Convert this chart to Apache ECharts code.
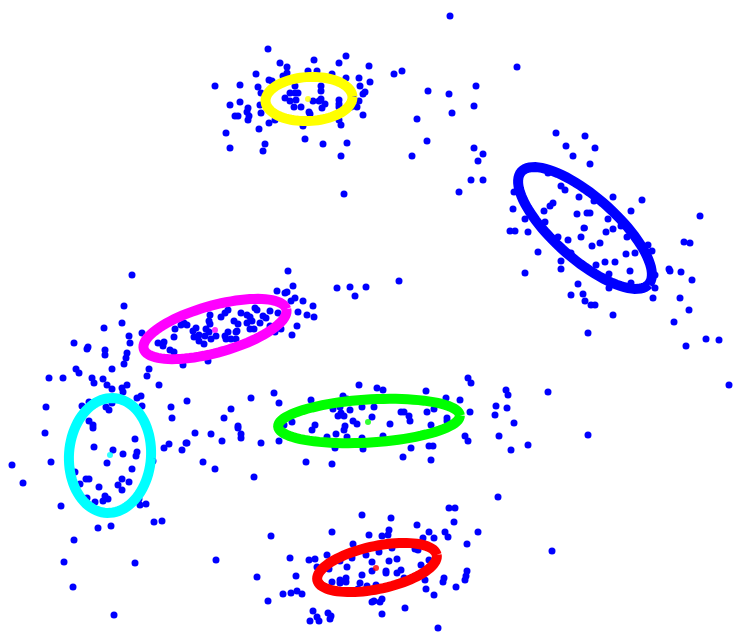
<!DOCTYPE html>
<html>
<head>
<meta charset="utf-8">
<script src="https://cdn.jsdelivr.net/npm/echarts@6/dist/echarts.min.js"></script>
<style>
  html, body { margin: 0; padding: 0; background: #fff; }
  #chart { width: 746px; height: 642px; }
</style>
</head>
<body>
<div id="chart"></div>
<script>
// scatter of samples + fitted cluster ellipses
const samplePoints = [
  // around yellow cluster
  [2.68,0.49],[2.15,0.86],[2.40,0.85],[2.56,0.74],[2.80,0.63],[2.87,0.67],[2.87,0.73],[3.14,0.60],[3.46,0.56],[3.39,0.63],
  [3.69,0.66],[3.70,0.82],[3.59,0.78],[3.60,0.86],[3.65,0.92],[3.63,0.94],[3.59,1.01],[3.57,1.07],[3.63,1.15],[3.46,0.78],
  [3.32,0.74],[3.17,0.71],[3.08,0.71],[2.69,0.80],[2.72,0.81],[2.83,0.76],[2.58,0.87],[2.61,0.93],[2.30,1.05],[2.40,1.02],
  [2.48,1.08],[2.47,1.12],[2.35,1.16],[2.38,1.16],[2.49,1.16],[2.48,1.20],[2.61,1.13],[2.69,1.23],[2.75,1.20],[2.59,1.29],
  [2.26,1.33],[2.30,1.48],[2.65,1.44],[2.63,1.51],[3.03,1.26],[3.05,1.39],[3.23,1.44],[3.47,1.43],[3.41,1.56],[3.44,1.94],
  [3.41,1.25],[3.39,1.20],[2.60,1.05],[2.95,0.86],[2.90,0.93],[2.95,0.93],[2.98,0.93],[2.85,0.98],[2.90,1.01],[2.96,1.00],
  [2.94,1.07],[3.01,1.07],[3.09,1.12],[3.10,1.14],[3.13,1.01],[3.21,0.86],[3.21,0.91],[3.19,1.01],[3.21,0.99],[3.25,1.04],
  [3.22,1.08],[3.39,1.00],[3.39,1.04],[3.39,1.07],[3.53,0.97],[3.51,1.07],
  // upper middle / blue cluster
  [4.50,0.16],[3.94,0.74],[4.02,0.71],[5.17,0.67],[4.28,0.91],[4.49,0.94],[4.76,0.86],[4.74,1.06],[4.52,1.13],[4.17,1.19],
  [4.27,1.41],[4.12,1.56],[4.74,1.48],[4.83,1.54],[4.78,1.61],[4.71,1.80],[4.83,1.80],[4.59,1.92],[5.56,1.33],[5.13,2.09],
  [5.44,2.11],[5.50,2.06],[5.53,2.03],[5.48,1.73],[5.61,1.86],[5.14,1.92],
  [5.85,1.36],[5.66,1.46],[5.95,1.48],[5.73,1.56],[5.90,1.64],[5.65,1.90],[5.79,1.97],[5.94,2.01],[6.13,1.97],[6.42,2.00],
  [6.31,2.11],[5.77,2.14],[5.87,2.13],[5.90,2.13],[7.00,2.16],
  [6.08,2.19],[6.17,2.16],[5.84,2.28],[6.13,2.29],[6.06,2.32],[6.21,2.26],[5.68,2.40],[5.81,2.37],[5.92,2.46],[6.00,2.43],
  [6.27,2.37],[6.48,2.45],[6.52,2.51],[6.35,2.53],[6.26,2.54],[5.71,2.53],[5.96,2.65],[6.05,2.62],[6.15,2.62],[6.30,2.71],
  [6.09,2.74],[6.55,2.75],[6.31,2.83],[6.55,2.88],[6.53,2.98],[6.09,2.88],[5.78,2.84],[5.71,2.95],[5.83,2.94],[5.85,3.01],
  [5.91,3.05],[5.95,3.05],[6.13,3.15],[5.88,3.33],[6.69,2.69],[6.70,2.71],[6.84,2.42],[6.90,2.43],[6.81,2.72],[6.92,2.80],
  [6.80,2.98],[6.89,3.10],[6.74,3.22],[7.06,3.39],[7.19,3.40],[6.86,3.46],[7.29,3.85],[5.88,4.35],
  [5.25,2.19],[5.45,2.22],[5.10,2.31],[5.15,2.31],[5.28,2.32],[5.58,2.37],[5.38,2.52],[5.61,2.61],[5.25,2.73],[5.61,2.69],
  // green cluster
  [3.99,2.81],[4.68,3.78],[4.71,3.83],[3.77,3.88],[3.83,3.90],[4.26,3.91],[4.46,3.98],[4.60,4.00],[5.06,3.90],[5.08,3.95],
  [5.48,3.92],[4.96,4.06],[5.07,4.08],[4.95,4.15],[4.70,4.12],[5.14,4.23],[3.74,4.07],[4.01,4.12],[4.04,4.12],[4.09,4.16],
  [4.10,4.21],[4.27,4.12],[4.34,4.09],[4.47,4.18],[4.47,4.21],[3.90,4.24],[4.31,4.25],
  [3.83,4.36],[4.11,4.48],[4.03,4.57],[4.29,4.46],[4.33,4.46],[4.31,4.60],[4.65,4.36],[4.68,4.41],[4.99,4.36],[5.11,4.50],
  [5.28,4.45],[4.98,4.97],[5.52,5.51],
  // red cluster
  [4.49,5.08],[4.55,5.08],[3.91,5.18],[4.54,5.22],[4.17,5.25],[4.29,5.32],[4.34,5.38],[4.45,5.32],[4.48,5.37],[4.78,5.32],
  [4.67,5.44],[3.89,5.30],[3.88,5.35],[3.82,5.36],[4.23,5.38],[3.92,5.48],[3.79,5.52],[4.15,5.49],[4.18,5.50],[3.89,5.61],
  [3.97,5.59],[4.21,5.65],[4.29,5.60],[3.86,5.71],[3.86,5.73],[3.97,5.73],[4.01,5.70],[4.04,5.78],[4.25,5.80],[4.44,5.78],
  [4.43,5.82],[4.67,5.71],[4.66,5.76],[4.65,5.80],[4.56,5.87],[4.26,5.89],[4.34,5.95],[3.76,5.85],[3.74,6.01],[3.80,6.02],
  [3.82,5.99],[3.82,6.14],[4.05,6.08],[4.38,6.28],
  [1.95,4.33],[2.11,4.34],[2.22,4.41],[2.41,4.34],[2.41,4.38],[2.38,4.28],[2.61,4.43],[2.79,4.41],[1.87,4.43],[2.03,4.62],
  [2.15,4.69],[2.54,4.77],[3.06,4.62],[3.32,4.64],[3.12,4.30],[3.27,4.37],[3.36,4.34],[3.44,4.30],[3.47,4.37],[3.62,4.38],
  [3.35,4.48],[3.63,4.49],[3.62,5.15],[3.32,5.32],[3.69,5.35],[2.71,5.36],[2.16,5.60],[2.57,5.77],[2.90,5.58],[3.09,5.60],
  [3.15,5.59],[3.27,5.55],[3.53,5.44],[2.96,5.76],[3.17,5.67],[3.29,5.69],[3.40,5.61],[3.52,5.58],[3.66,5.55],[3.47,5.67],
  [3.72,5.62],[3.72,5.71],[3.62,5.75],[3.32,5.82],[3.40,5.80],[3.46,5.78],[3.46,5.82],[3.40,5.83],[3.60,5.83],[3.67,5.86],
  [3.58,5.89],[2.83,5.94],[2.91,5.93],[2.97,5.91],[3.02,5.94],[2.68,6.01],[3.72,6.02],[3.13,6.11],[3.17,6.17],[3.19,6.21],
  [3.10,6.21],[3.28,6.13],[3.31,6.16],[3.30,6.19],
  // cyan cluster
  [0.45,4.33],[0.12,4.65],[0.23,4.83],[0.51,4.62],[0.94,4.47],[1.13,4.50],[1.23,4.54],[1.35,4.39],[1.37,4.52],[1.36,4.56],
  [1.07,4.63],[1.32,4.69],[0.75,4.72],[0.86,4.79],[0.89,4.79],[0.80,4.84],[0.99,4.87],[1.22,4.79],[1.29,4.82],[1.18,4.85],
  [1.22,4.90],[1.05,4.96],[1.08,4.99],[1.03,5.01],[0.95,5.02],[0.87,4.98],[1.40,5.05],[1.46,5.04],[1.39,4.99],[1.53,4.61],
  [1.64,4.48],[1.69,4.44],[1.82,4.50],[1.86,4.43],[0.61,5.06],[0.98,5.28],[1.11,5.26],[1.54,5.22],[1.62,5.21],[0.74,5.40],
  [0.64,5.62],[1.35,5.63],[0.73,5.87],[1.14,6.15],[0.93,4.28],
  // magenta cluster
  [1.32,2.75],[1.24,3.06],[1.22,3.23],[1.04,3.28],[0.74,3.43],[1.29,3.36],[1.30,3.43],[1.42,3.33],[0.88,3.47],[0.87,3.49],
  [1.05,3.50],[1.05,3.55],[1.27,3.53],[1.26,3.58],[1.24,3.64],[0.76,3.69],[0.79,3.73],[0.49,3.78],[0.63,3.78],[0.92,3.78],
  [0.94,3.83],[1.03,3.79],[1.12,3.69],[1.07,3.85],[1.12,3.89],[1.22,3.88],[1.23,3.92],[1.27,3.85],[1.49,3.69],[1.47,3.76],
  [1.59,3.85],[1.37,3.98],[1.41,3.96],[1.42,4.06],[0.46,4.07],[0.82,4.06],[0.89,4.02],[1.06,4.07],[1.09,4.10],[1.12,4.03],
  [0.89,4.21],[0.93,4.25],[1.71,4.07],[1.72,4.18],[1.87,4.01],[1.75,3.29],[1.74,3.37],[1.58,3.43],[1.64,3.42],[1.63,3.46],
  [1.70,3.50],[1.74,3.52],[1.81,3.25],[1.84,3.23],[1.83,3.65],
  [2.88,2.71],[2.93,2.86],[2.77,2.91],[2.85,2.93],[2.87,2.92],[2.95,2.98],[2.91,3.01],[3.03,3.01],[3.13,3.06],[2.98,3.12],
  [3.07,3.15],[3.14,3.17],[2.97,3.26],[2.92,3.35],[3.37,2.88],[3.50,2.87],[3.66,2.87],[3.55,2.96],[2.81,3.29],[2.75,3.32],
  [2.10,3.15],[2.09,3.21],[2.10,3.24],[2.21,3.17],[2.25,3.13],[2.28,3.10],[2.41,3.13],[2.47,3.15],[2.50,3.17],[2.55,3.08],
  [2.57,3.10],[2.63,3.16],[2.66,3.18],[2.70,3.11],[2.78,3.13],[2.34,3.21],[2.38,3.24],[2.47,3.23],[2.52,3.21],[2.60,3.23],
  [2.50,3.29],[2.54,3.29],[2.37,3.31],[2.36,3.32],[2.28,3.32],[2.25,3.36],[2.26,3.39],[2.31,3.39],[2.36,3.39],[2.70,3.26],
  [1.87,3.25],[1.96,3.28],[1.93,3.31],[1.94,3.37],[1.99,3.35],[1.99,3.41],[2.04,3.44],[2.05,3.36],[2.09,3.32],[2.11,3.39],
  [2.16,3.36],[2.06,3.29],[2.08,3.61],
  [2.51,3.98],[2.74,3.93],[2.79,4.03],[2.31,4.09],[2.24,4.18],[2.38,4.26],[3.59,3.85],[3.11,4.00],[3.43,3.96],[3.47,3.99],
  [3.40,4.07],[3.41,4.13],[3.38,4.16],[3.44,4.16],[3.50,4.10],[3.62,4.07],[3.53,4.21],[3.57,4.24],[3.33,4.09],[2.84,4.25],
  [2.92,4.22],[3.15,4.25],[3.45,4.26],[3.72,4.17]
]

// cluster order: yellow, blue, magenta, green, cyan, red
const clusterColors = ['#ffff00', '#0000ff', '#ff00ff', '#00ff00', '#00ffff', '#ff0000']
const clusterCenters = [[3.08,0.99],[5.85,2.28],[2.15,3.30],[3.68,4.22],[1.10,4.55],[3.76,5.68]]
const ellipseCenters = [[3.09,0.99],[5.85,2.28],[2.15,3.29],[3.69,4.21],[1.10,4.555],[3.77,5.675]]
const ellipseAxes = [[0.435,0.22],[0.85,0.31],[0.74,0.235],[0.91,0.215],[0.41,0.575],[0.61,0.215]]
const ellipseAngles = [-3, 41.5, -15.6, -3.5, 4, -12]

const chart = echarts.init(document.getElementById('chart'))

const ellipseData = ellipseCenters.map((c, i) => [c[0], c[1], ellipseAxes[i][0], ellipseAxes[i][1], ellipseAngles[i]])

const option = {
    backgroundColor: '#ffffff',
    animation: false,
    grid: { left: 0, right: 0, top: 0, bottom: 0 },
    xAxis: { type: 'value', min: 0, max: 7.46, show: false },
    yAxis: { type: 'value', min: 0, max: 6.42, inverse: true, show: false },
    series: [
        {
            type: 'scatter',
            data: samplePoints,
            symbolSize: 7,
            itemStyle: { color: '#0000ff', opacity: 1 },
            z: 2,
        },
        {
            type: 'custom',
            data: ellipseData,
            z: 3,
            renderItem: (params, api) => {
                const cx = api.value(0)
                const cy = api.value(1)
                const a = api.value(2)
                const b = api.value(3)
                const ang = api.value(4) * Math.PI / 180
                const pts = []
                const n = 90
                for (let k = 0; k <= n; k++) {
                    const t = (k / n) * Math.PI * 2
                    const x = cx + a * Math.cos(t) * Math.cos(ang) - b * Math.sin(t) * Math.sin(ang)
                    const y = cy + a * Math.cos(t) * Math.sin(ang) + b * Math.sin(t) * Math.cos(ang)
                    pts.push(api.coord([x, y]))
                }
                return {
                    type: 'polyline',
                    shape: { points: pts },
                    style: { stroke: clusterColors[params.dataIndex], lineWidth: 10, fill: null, lineCap: 'butt' },
                }
            },
        },
        {
            type: 'scatter',
            data: clusterCenters.map((c, i) => ({ value: c, itemStyle: { color: clusterColors[i] } })),
            symbolSize: 6,
            z: 4,
        },
    ],
}
chart.setOption(option)
window.addEventListener('resize', () => chart.resize())
</script>
</body>
</html>
